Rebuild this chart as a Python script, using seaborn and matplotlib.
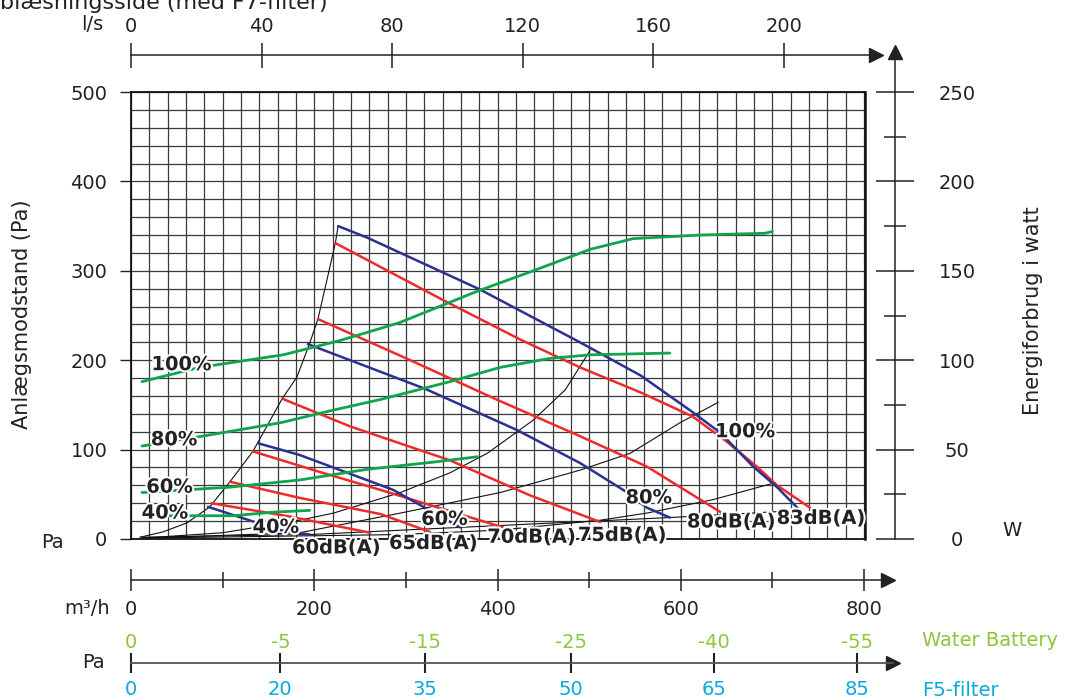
import matplotlib
matplotlib.use("Agg")
import matplotlib.pyplot as plt
import matplotlib.patheffects as pe
import numpy as np
import seaborn as sns

# ---- data (x in m3/h, y in Pa, green curves in W) ----
# fan curves (blue) at 40/60/80/100 %
b100_x = [226, 258, 381, 490, 556, 610, 643, 679, 705, 730]
b100_y = [350, 337, 279, 220, 183, 144, 119, 81, 58, 32]
b80_x = [193, 321, 421, 490, 537, 563, 588]
b80_y = [218, 168, 122, 85, 55, 35, 24]
b60_x = [139, 184, 286, 326, 359]
b60_y = [107, 94, 55, 32, 13]
b40_x = [84, 138, 163, 195]
b40_y = [36, 18, 10, 5]

# sound level lines (red)
r83_x = [223, 341, 425, 490, 556, 613, 650, 683, 705, 741]
r83_y = [331, 267, 223, 192, 164, 137, 109, 81, 60, 35]
r80_x = [204, 294, 399, 490, 563, 645]
r80_y = [246, 205, 156, 115, 81, 29]
r75_x = [165, 239, 348, 435, 512]
r75_y = [157, 126, 88, 49, 19]
r70_x = [133, 206, 272, 406]
r70_y = [98, 75, 55, 13]
r65_x = [108, 184, 272, 326]
r65_y = [64, 46, 28, 8]
r60_x = [88, 174, 261]
r60_y = [40, 25, 7]

# power consumption (green, W)
g100_x = [12, 75, 166, 228, 293, 380, 439, 501, 548, 621, 692, 700]
g100_y = [88, 96, 103, 111, 121, 139, 150, 162, 168, 170, 171, 172]
g80_x = [12, 72, 163, 220, 272, 348, 403, 457, 501, 588]
g80_y = [52, 57, 65, 72, 78, 88, 96, 101, 103, 104]
g60_x = [12, 108, 184, 258, 330, 378]
g60_y = [26, 29, 33, 39, 43, 46]
g40_x = [12, 111, 155, 195]
g40_y = [13, 13, 15, 16]

# thin black curves: operating limit + system curves
bnd_x = [10, 35, 61, 86, 108, 133, 165, 181, 195, 204, 217, 223, 226]
bnd_y = [2, 8, 18, 36, 64, 98, 157, 181, 219, 246, 304, 331, 350]
sysA_x = [13, 100, 184, 221, 294, 348, 389, 439, 474, 501]
sysA_y = [1, 7, 21, 29, 52, 74, 96, 133, 167, 211]
sysB_x = [13, 184, 294, 403, 490, 545, 599, 641]
sysB_y = [1, 7, 29, 52, 77, 96, 130, 153]
sysC_x = [13, 294, 403, 512, 563, 635, 703]
sysC_y = [1, 5, 10, 21, 29, 44, 63]
sysD_x = [10, 195, 359, 588, 730]
sysD_y = [2, 5, 13, 24, 32]

pct_labels = ["100%", "80%", "60%", "40%"]
db_labels = ["60dB(A)", "65dB(A)", "70dB(A)", "75dB(A)", "80dB(A)", "83dB(A)"]

ls_ticks = [0, 40, 80, 120, 160, 200]
w_ticks = [0, 50, 100, 150, 200, 250]
flow_ticks = [0, 200, 400, 600, 800]
pa_tick_flow = [0, 163, 321, 480, 636, 792]
water_battery = ["0", "-5", "-15", "-25", "-40", "-55"]
f5_filter = ["0", "20", "35", "50", "65", "85"]

# ---- style ----
sns.set_style("white")
plt.rcParams["font.family"] = ["DejaVu Sans"]
plt.rcParams["axes.unicode_minus"] = False

BLUE = "#2b3190"
RED = "#ee2b2b"
GREEN = "#10a54a"
LGREEN = "#8cc63f"
CYAN = "#0aa8dc"
INK = "#222222"

W, H = 1072, 700
fig = plt.figure(figsize=(W / 100, H / 100), dpi=100)


def box(x0, y0, x1, y1):
    return [x0 / W, 1 - y1 / H, (x1 - x0) / W, (y1 - y0) / H]


halo = [pe.withStroke(linewidth=3, foreground="white")]

# ---- main chart ----
ax = fig.add_axes(box(131, 92, 865, 539))
ax.set_xlim(0, 801)
ax.set_ylim(0, 500)
ax.set_xticks([])
ax.set_xticks(np.arange(0, 801, 20), minor=True)
ax.set_yticks(np.arange(0, 501, 100))
ax.set_yticks(np.arange(0, 501, 20), minor=True)
ax.tick_params(axis="x", which="both", length=0, labelbottom=False)
ax.tick_params(axis="y", which="major", left=True, direction="out", length=8,
               width=1, pad=9, labelsize=14, colors=INK)
ax.tick_params(axis="y", which="minor", length=0)
ax.grid(which="both", color="#3a3a3a", lw=0.9)
ax.set_axisbelow(True)
for s in ax.spines.values():
    s.set_color("#111111")
    s.set_linewidth(1.3)
ax.spines["right"].set_linewidth(1.8)

for xs, ys in [(bnd_x, bnd_y), (sysA_x, sysA_y), (sysB_x, sysB_y),
               (sysC_x, sysC_y), (sysD_x, sysD_y)]:
    sns.lineplot(x=xs, y=ys, ax=ax, color="#111111", linewidth=0.8,
                 sort=False, estimator=None, legend=False)

for xs, ys in [(r83_x, r83_y), (r80_x, r80_y), (r75_x, r75_y),
               (r70_x, r70_y), (r65_x, r65_y), (r60_x, r60_y)]:
    sns.lineplot(x=xs, y=ys, ax=ax, color=RED, linewidth=1.8,
                 sort=False, estimator=None, legend=False)

for xs, ys in [(b100_x, b100_y), (b80_x, b80_y), (b60_x, b60_y), (b40_x, b40_y)]:
    sns.lineplot(x=xs, y=ys, ax=ax, color=BLUE, linewidth=1.8,
                 sort=False, estimator=None, legend=False)

ax.set_xlabel("")
ax.set_ylabel("")

# power curves on a hidden W scale
axw = ax.twinx()
axw.set_ylim(0, 250)
for xs, ys in [(g100_x, g100_y), (g80_x, g80_y), (g60_x, g60_y), (g40_x, g40_y)]:
    sns.lineplot(x=xs, y=ys, ax=axw, color=GREEN, linewidth=2.0,
                 sort=False, estimator=None, legend=False)
axw.axis("off")

# curve labels
green_lbl_pos = [(55, 195), (47, 111), (42, 58), (37, 29)]
blue_lbl_pos = [(670, 120), (565, 46), (342, 22), (158, 13)]
db_lbl_pos = [(224, -10), (330, -5), (437, 2), (536, 4), (655, 19), (753, 23)]
lbl_kw = dict(transform=ax.transData, ha="center", va="center", fontsize=14,
              fontweight="bold", color=INK, path_effects=halo, clip_on=False,
              zorder=10)
for s, (x, y) in zip(pct_labels, green_lbl_pos):
    axw.text(x, y, s, **lbl_kw)
for s, (x, y) in zip(pct_labels, blue_lbl_pos):
    axw.text(x, y, s, **lbl_kw)
for s, (x, y) in zip(db_labels, db_lbl_pos):
    axw.text(x, y, s, **lbl_kw)

# ---- right W axis ----
axr = fig.add_axes(box(895, 52, 895.2, 539))
axr.set_ylim(0, 250 * (539 - 52) / (539 - 92))
axr.set_xticks([])
axr.yaxis.tick_right()
axr.set_yticks(w_ticks)
axr.set_yticks(np.arange(25, 250, 50), minor=True)
axr.tick_params(axis="y", which="major", right=True, direction="inout", length=27,
                width=1.1, pad=31, labelsize=14, colors=INK)
axr.tick_params(axis="y", which="minor", right=True, direction="inout", length=16,
                width=1.1)
for lbl in axr.get_yticklabels():
    lbl.set_horizontalalignment("center")
for s in ["top", "bottom", "left"]:
    axr.spines[s].set_visible(False)
axr.spines["right"].set_color(INK)
axr.spines["right"].set_linewidth(1.1)
axr.patch.set_visible(False)
axr.plot(1, 1, marker="^", ms=10, color=INK, transform=axr.transAxes, clip_on=False)

# ---- top l/s axis ----
axt = fig.add_axes(box(131, 55, 876, 55.1))
axt.set_xlim(0, (876 - 131) / 3.265)
axt.set_yticks([])
axt.xaxis.tick_top()
axt.set_xticks(ls_ticks)
axt.tick_params(axis="x", top=True, direction="inout", length=18, width=1.1,
                pad=5, labelsize=14, colors=INK)
for s in ["bottom", "left", "right"]:
    axt.spines[s].set_visible(False)
axt.spines["top"].set_color(INK)
axt.spines["top"].set_linewidth(1.1)
axt.patch.set_visible(False)
axt.plot(1, 1, marker=">", ms=10, color=INK, transform=axt.transAxes, clip_on=False)

# ---- bottom m3/h axis ----
axb = fig.add_axes(box(131, 580, 888, 580.1))
axb.set_xlim(0, (888 - 131) / 0.9163)
axb.set_yticks([])
axb.set_xticks(flow_ticks)
axb.set_xticks([100, 300, 500, 700], minor=True)
axb.tick_params(axis="x", which="major", bottom=True, direction="inout",
                length=16, width=1.1, pad=6, labelsize=14, colors=INK)
axb.tick_params(axis="x", which="minor", bottom=True, direction="inout",
                length=12, width=1.1)
for s in ["top", "left", "right"]:
    axb.spines[s].set_visible(False)
axb.spines["bottom"].set_color(INK)
axb.spines["bottom"].set_linewidth(1.1)
axb.patch.set_visible(False)
axb.plot(1, 0, marker=">", ms=10, color=INK, transform=axb.transAxes, clip_on=False)

# ---- bottom Pa axis (water battery / F5 filter) ----
axp = fig.add_axes(box(131, 663, 893, 663.1))
axp.set_xlim(0, (893 - 131) / 0.9163)
axp.set_yticks([])
axp.set_xticks(pa_tick_flow)
axp.set_xticklabels(f5_filter)
axp.tick_params(axis="x", bottom=True, direction="inout", length=15, width=1.5,
                color=INK, pad=5, labelsize=14, labelcolor=CYAN)
axp2 = axp.twiny()
axp2.set_xlim(axp.get_xlim())
axp2.set_xticks(pa_tick_flow)
axp2.set_xticklabels(water_battery)
axp2.tick_params(axis="x", top=True, length=0, pad=8, labelsize=14,
                 labelcolor=LGREEN)
for a in (axp, axp2):
    for s in ["top", "left", "right", "bottom"]:
        a.spines[s].set_visible(False)
    a.patch.set_visible(False)
axp.spines["bottom"].set_visible(True)
axp.spines["bottom"].set_color("#555555")
axp.spines["bottom"].set_linewidth(1.3)
axp.plot(1, 0, marker=">", ms=10, color=INK, transform=axp.transAxes, clip_on=False)

# ---- free text ----
def ftext(px, py, s, **kw):
    fig.text(px / W, 1 - py / H, s, **kw)


ftext(0, 9, "blæsningsside (med F7-filter)", fontsize=16, color=INK,
      ha="left", va="baseline")
ftext(92, 25, "l/s", fontsize=14, color=INK, ha="center", va="center")
ftext(52, 542, "Pa", fontsize=14, color=INK, ha="center", va="center")
ftext(87, 609, "m³/h", fontsize=14, color=INK, ha="center", va="center")
ftext(93, 663, "Pa", fontsize=14, color=INK, ha="center", va="center")
ftext(1012, 530, "W", fontsize=14, color=INK, ha="center", va="center")
ftext(922, 641, "Water Battery", fontsize=14, color=LGREEN, ha="left", va="center")
ftext(922, 690, "F5-filter", fontsize=14, color=CYAN, ha="left", va="center")
ftext(22, 314, "Anlægsmodstand (Pa)", fontsize=15, color=INK, rotation=90,
      ha="center", va="center")
ftext(1033, 311, "Energiforbrug i watt", fontsize=15, color=INK, rotation=90,
      ha="center", va="center")

fig.savefig("out.png", dpi=100)
